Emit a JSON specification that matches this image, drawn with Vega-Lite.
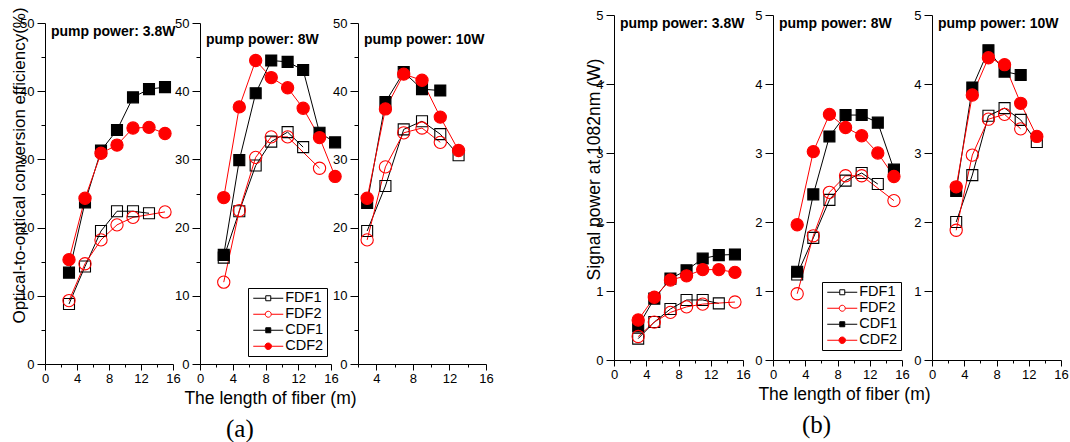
{
"$schema": "https://vega.github.io/schema/vega-lite/v6.json",
"padding": {"left": 10, "top": 6, "right": 0, "bottom": 0},
"config": {
  "font": "Liberation Sans",
  "view": {"stroke": null},
  "axis": {"domainColor": "black", "domainWidth": 1, "tickColor": "black", "tickWidth": 1, "labelColor": "black", "labelFont": "Liberation Sans", "labelFontSize": 13, "titleFont": "Liberation Sans", "titleFontSize": 17.5, "titleFontWeight": "normal", "titleColor": "black", "grid": false, "labelFlush": false, "labelOverlap": false},
  "legend": {"padding": 3, "strokeColor": "black", "fillColor": "white", "labelFont": "Liberation Sans", "labelFontSize": 14.5, "labelColor": "black", "symbolOffset": 10, "labelOffset": 9.7, "rowPadding": 1, "symbolStrokeWidth": 1, "symbolSize": 100}
},
"datasets": {"d": [
{"p":"a1","s":"FDF1","x":3,"y":8.8},{"p":"a1","s":"FDF1","x":5,"y":14.3},{"p":"a1","s":"FDF1","x":7,"y":19.5},{"p":"a1","s":"FDF1","x":9,"y":22.4},{"p":"a1","s":"FDF1","x":11,"y":22.4},{"p":"a1","s":"FDF1","x":13,"y":22.1},
{"p":"a1","s":"FDF2","x":3,"y":9.3},{"p":"a1","s":"FDF2","x":5,"y":14.7},{"p":"a1","s":"FDF2","x":7,"y":18.2},{"p":"a1","s":"FDF2","x":9,"y":20.4},{"p":"a1","s":"FDF2","x":11,"y":21.5},{"p":"a1","s":"FDF2","x":15,"y":22.3},
{"p":"a1","s":"CDF1","x":3,"y":13.4},{"p":"a1","s":"CDF1","x":5,"y":23.7},{"p":"a1","s":"CDF1","x":7,"y":31.3},{"p":"a1","s":"CDF1","x":9,"y":34.3},{"p":"a1","s":"CDF1","x":11,"y":39.1},{"p":"a1","s":"CDF1","x":13,"y":40.3},{"p":"a1","s":"CDF1","x":15,"y":40.6},
{"p":"a1","s":"CDF2","x":3,"y":15.3},{"p":"a1","s":"CDF2","x":5,"y":24.3},{"p":"a1","s":"CDF2","x":7,"y":30.9},{"p":"a1","s":"CDF2","x":9,"y":32.1},{"p":"a1","s":"CDF2","x":11,"y":34.6},{"p":"a1","s":"CDF2","x":13,"y":34.7},{"p":"a1","s":"CDF2","x":15,"y":33.8},
{"p":"a2","s":"FDF1","x":2.9,"y":15.6},{"p":"a2","s":"FDF1","x":4.8,"y":22.4},{"p":"a2","s":"FDF1","x":6.8,"y":29.1},{"p":"a2","s":"FDF1","x":8.7,"y":32.6},{"p":"a2","s":"FDF1","x":10.7,"y":34.0},{"p":"a2","s":"FDF1","x":12.6,"y":31.8},
{"p":"a2","s":"FDF2","x":2.9,"y":12.0},{"p":"a2","s":"FDF2","x":4.8,"y":22.5},{"p":"a2","s":"FDF2","x":6.8,"y":30.3},{"p":"a2","s":"FDF2","x":8.7,"y":33.3},{"p":"a2","s":"FDF2","x":10.7,"y":33.3},{"p":"a2","s":"FDF2","x":14.6,"y":28.7},
{"p":"a2","s":"CDF1","x":2.9,"y":16.0},{"p":"a2","s":"CDF1","x":4.8,"y":29.9},{"p":"a2","s":"CDF1","x":6.8,"y":39.7},{"p":"a2","s":"CDF1","x":8.7,"y":44.5},{"p":"a2","s":"CDF1","x":10.7,"y":44.3},{"p":"a2","s":"CDF1","x":12.6,"y":43.1},{"p":"a2","s":"CDF1","x":14.6,"y":33.9},{"p":"a2","s":"CDF1","x":16.5,"y":32.5},
{"p":"a2","s":"CDF2","x":2.9,"y":24.4},{"p":"a2","s":"CDF2","x":4.8,"y":37.7},{"p":"a2","s":"CDF2","x":6.8,"y":44.5},{"p":"a2","s":"CDF2","x":8.7,"y":42.0},{"p":"a2","s":"CDF2","x":10.7,"y":40.5},{"p":"a2","s":"CDF2","x":12.6,"y":37.5},{"p":"a2","s":"CDF2","x":14.6,"y":33.2},{"p":"a2","s":"CDF2","x":16.5,"y":27.5},
{"p":"a3","s":"FDF1","x":3,"y":19.5},{"p":"a3","s":"FDF1","x":5,"y":26.1},{"p":"a3","s":"FDF1","x":7,"y":34.4},{"p":"a3","s":"FDF1","x":9,"y":35.6},{"p":"a3","s":"FDF1","x":11,"y":33.7},{"p":"a3","s":"FDF1","x":13,"y":30.6},
{"p":"a3","s":"FDF2","x":3,"y":18.2},{"p":"a3","s":"FDF2","x":5,"y":28.9},{"p":"a3","s":"FDF2","x":7,"y":33.9},{"p":"a3","s":"FDF2","x":9,"y":34.6},{"p":"a3","s":"FDF2","x":11,"y":32.5},
{"p":"a3","s":"CDF1","x":3,"y":23.6},{"p":"a3","s":"CDF1","x":5,"y":38.4},{"p":"a3","s":"CDF1","x":7,"y":42.8},{"p":"a3","s":"CDF1","x":9,"y":40.3},{"p":"a3","s":"CDF1","x":11,"y":40.1},
{"p":"a3","s":"CDF2","x":3,"y":24.3},{"p":"a3","s":"CDF2","x":5,"y":37.4},{"p":"a3","s":"CDF2","x":7,"y":42.5},{"p":"a3","s":"CDF2","x":9,"y":41.6},{"p":"a3","s":"CDF2","x":11,"y":36.2},{"p":"a3","s":"CDF2","x":13,"y":31.3},
{"p":"b1","s":"FDF1","x":3,"y":0.31},{"p":"b1","s":"FDF1","x":5,"y":0.55},{"p":"b1","s":"FDF1","x":7,"y":0.74},{"p":"b1","s":"FDF1","x":9,"y":0.87},{"p":"b1","s":"FDF1","x":11,"y":0.87},{"p":"b1","s":"FDF1","x":13,"y":0.82},
{"p":"b1","s":"FDF2","x":3,"y":0.34},{"p":"b1","s":"FDF2","x":5,"y":0.55},{"p":"b1","s":"FDF2","x":7,"y":0.69},{"p":"b1","s":"FDF2","x":9,"y":0.77},{"p":"b1","s":"FDF2","x":11,"y":0.81},{"p":"b1","s":"FDF2","x":15,"y":0.84},
{"p":"b1","s":"CDF1","x":3,"y":0.49},{"p":"b1","s":"CDF1","x":5,"y":0.89},{"p":"b1","s":"CDF1","x":7,"y":1.18},{"p":"b1","s":"CDF1","x":9,"y":1.30},{"p":"b1","s":"CDF1","x":11,"y":1.47},{"p":"b1","s":"CDF1","x":13,"y":1.52},{"p":"b1","s":"CDF1","x":15,"y":1.53},
{"p":"b1","s":"CDF2","x":3,"y":0.58},{"p":"b1","s":"CDF2","x":5,"y":0.91},{"p":"b1","s":"CDF2","x":7,"y":1.16},{"p":"b1","s":"CDF2","x":9,"y":1.22},{"p":"b1","s":"CDF2","x":11,"y":1.31},{"p":"b1","s":"CDF2","x":13,"y":1.31},{"p":"b1","s":"CDF2","x":15,"y":1.27},
{"p":"b2","s":"FDF1","x":3,"y":1.24},{"p":"b2","s":"FDF1","x":5,"y":1.77},{"p":"b2","s":"FDF1","x":7,"y":2.32},{"p":"b2","s":"FDF1","x":9,"y":2.60},{"p":"b2","s":"FDF1","x":11,"y":2.71},{"p":"b2","s":"FDF1","x":13,"y":2.55},
{"p":"b2","s":"FDF2","x":3,"y":0.96},{"p":"b2","s":"FDF2","x":5,"y":1.80},{"p":"b2","s":"FDF2","x":7,"y":2.43},{"p":"b2","s":"FDF2","x":9,"y":2.67},{"p":"b2","s":"FDF2","x":11,"y":2.67},{"p":"b2","s":"FDF2","x":15,"y":2.31},
{"p":"b2","s":"CDF1","x":3,"y":1.28},{"p":"b2","s":"CDF1","x":5,"y":2.40},{"p":"b2","s":"CDF1","x":7,"y":3.24},{"p":"b2","s":"CDF1","x":9,"y":3.55},{"p":"b2","s":"CDF1","x":11,"y":3.55},{"p":"b2","s":"CDF1","x":13,"y":3.44},{"p":"b2","s":"CDF1","x":15,"y":2.76},
{"p":"b2","s":"CDF2","x":3,"y":1.96},{"p":"b2","s":"CDF2","x":5,"y":3.02},{"p":"b2","s":"CDF2","x":7,"y":3.56},{"p":"b2","s":"CDF2","x":9,"y":3.37},{"p":"b2","s":"CDF2","x":11,"y":3.25},{"p":"b2","s":"CDF2","x":13,"y":3.00},{"p":"b2","s":"CDF2","x":15,"y":2.66},
{"p":"b3","s":"FDF1","x":3,"y":2.00},{"p":"b3","s":"FDF1","x":5,"y":2.68},{"p":"b3","s":"FDF1","x":7,"y":3.54},{"p":"b3","s":"FDF1","x":9,"y":3.65},{"p":"b3","s":"FDF1","x":11,"y":3.48},{"p":"b3","s":"FDF1","x":13,"y":3.16},
{"p":"b3","s":"FDF2","x":3,"y":1.88},{"p":"b3","s":"FDF2","x":5,"y":2.97},{"p":"b3","s":"FDF2","x":7,"y":3.49},{"p":"b3","s":"FDF2","x":9,"y":3.56},{"p":"b3","s":"FDF2","x":11,"y":3.35},
{"p":"b3","s":"CDF1","x":3,"y":2.45},{"p":"b3","s":"CDF1","x":5,"y":3.95},{"p":"b3","s":"CDF1","x":7,"y":4.49},{"p":"b3","s":"CDF1","x":9,"y":4.18},{"p":"b3","s":"CDF1","x":11,"y":4.13},
{"p":"b3","s":"CDF2","x":3,"y":2.51},{"p":"b3","s":"CDF2","x":5,"y":3.84},{"p":"b3","s":"CDF2","x":7,"y":4.38},{"p":"b3","s":"CDF2","x":9,"y":4.28},{"p":"b3","s":"CDF2","x":11,"y":3.72},{"p":"b3","s":"CDF2","x":13,"y":3.24}
]},
"spacing": 91,
"bounds": "full",
"resolve": {"scale": {"fill": "independent", "stroke": "independent", "shape": "independent"}},
"hconcat": [
{
"spacing": 27, "bounds": "flush",
"resolve": {"scale": {"fill": "independent", "stroke": "independent", "shape": "independent"}},
"title": {"text": "(a)", "orient": "bottom", "font": "Liberation Serif", "fontSize": 25, "fontWeight": "normal", "color": "black", "anchor": "middle", "dx": -12, "offset": 10},
"hconcat": [
{
 "width": 128, "height": 349,
 "title": {"text": "pump power: 3.8W", "frame": "group", "anchor": "start", "orient": "top", "baseline": "top", "offset": -11, "dx": 6, "dy": 21, "fontSize": 14, "fontWeight": "bold", "color": "black", "font": "Liberation Sans"},
 "data": {"name": "d"},
 "transform": [{"filter": "datum.p === 'a1'"}],
 "encoding": {
  "x": {"field": "x", "type": "quantitative", "scale": {"domain": [0, 16], "nice": false}, "axis": {"values": [0,2,4,6,8,10,12,14,16], "format": "d", "labelExpr": "datum.value % 4 === 0 ? datum.label : ''", "tickSize": {"condition": {"test": "datum.value % 4 === 0", "value": 6}, "value": 3}, "labelPadding": 2, "title": null}},
  "y": {"field": "y", "type": "quantitative", "scale": {"domain": [0, 50], "range": [349, 8], "nice": false}, "axis": {"values": [0,5,10,15,20,25,30,35,40,45,50], "format": "d", "labelExpr": "datum.value % 10 === 0 ? datum.label : ''", "tickSize": {"condition": {"test": "datum.value % 10 === 0", "value": 8}, "value": 4}, "labelPadding": 3, "title": "Optical-to-optical conversion efficiency(%)", "titleFontSize": 17, "titleX": -25.5, "titleY": 150, "titleAngle": -90, "titleAlign": "center", "titleBaseline": "middle"}}
 },
 "layer": [
  {"mark": {"type": "line", "strokeWidth": 1}, "encoding": {"stroke": {"field": "s", "scale": {"domain": ["FDF1","FDF2","CDF1","CDF2"], "range": ["black","red","black","red"]}, "legend": null}}},
  {"transform": [{"filter": "datum.s === 'FDF1' || datum.s === 'CDF1'"}], "mark": {"type": "point", "shape": "square", "size": 121, "strokeWidth": 1.1, "opacity": 1}, "encoding": {"fill": {"field": "s", "scale": {"domain": ["FDF1","FDF2","CDF1","CDF2"], "range": ["transparent","transparent","black","red"]}, "legend": null}, "stroke": {"field": "s", "scale": {"domain": ["FDF1","FDF2","CDF1","CDF2"], "range": ["black","red","black","red"]}, "legend": null}}},
  {"transform": [{"filter": "datum.s === 'FDF2' || datum.s === 'CDF2'"}], "mark": {"type": "point", "shape": "circle", "size": 150, "strokeWidth": 1.1, "opacity": 1}, "encoding": {"fill": {"field": "s", "scale": {"domain": ["FDF1","FDF2","CDF1","CDF2"], "range": ["transparent","transparent","black","red"]}, "legend": null}, "stroke": {"field": "s", "scale": {"domain": ["FDF1","FDF2","CDF1","CDF2"], "range": ["black","red","black","red"]}, "legend": null}}}
 ]
},
{
 "width": 131, "height": 349,
 "title": {"text": "pump power: 8W", "frame": "group", "anchor": "start", "orient": "top", "baseline": "top", "offset": -11, "dx": 6, "dy": 21, "fontSize": 14, "fontWeight": "bold", "color": "black", "font": "Liberation Sans"},
 "data": {"name": "d"},
 "transform": [{"filter": "datum.p === 'a2'"}],
 "encoding": {
  "x": {"field": "x", "type": "quantitative", "scale": {"domain": [0, 16], "nice": false}, "axis": {"values": [0,2,4,6,8,10,12,14,16], "format": "d", "labelExpr": "datum.value % 4 === 0 ? datum.label : ''", "tickSize": {"condition": {"test": "datum.value % 4 === 0", "value": 6}, "value": 3}, "labelPadding": 2, "title": "The length of fiber (m)", "titleX": 70, "titlePadding": 4}},
  "y": {"field": "y", "type": "quantitative", "scale": {"domain": [0, 50], "range": [349, 8], "nice": false}, "axis": {"values": [0,5,10,15,20,25,30,35,40,45,50], "format": "d", "labelExpr": "datum.value % 10 === 0 ? datum.label : ''", "tickSize": {"condition": {"test": "datum.value % 10 === 0", "value": 8}, "value": 4}, "labelPadding": 3, "title": null}}
 },
 "layer": [
  {"mark": {"type": "line", "strokeWidth": 1}, "encoding": {"stroke": {"field": "s", "scale": {"domain": ["FDF1","FDF2","CDF1","CDF2"], "range": ["black","red","black","red"]}}}},
  {"transform": [{"filter": "datum.s === 'FDF1' || datum.s === 'CDF1'"}], "mark": {"type": "point", "shape": "square", "size": 121, "strokeWidth": 1.1, "opacity": 1}, "encoding": {"fill": {"field": "s", "scale": {"domain": ["FDF1","FDF2","CDF1","CDF2"], "range": ["transparent","transparent","black","red"]}}, "stroke": {"field": "s", "scale": {"domain": ["FDF1","FDF2","CDF1","CDF2"], "range": ["black","red","black","red"]}}}},
  {"transform": [{"filter": "datum.s === 'FDF2' || datum.s === 'CDF2'"}], "mark": {"type": "point", "shape": "circle", "size": 150, "strokeWidth": 1.1, "opacity": 1}, "encoding": {"fill": {"field": "s", "scale": {"domain": ["FDF1","FDF2","CDF1","CDF2"], "range": ["transparent","transparent","black","red"]}}, "stroke": {"field": "s", "scale": {"domain": ["FDF1","FDF2","CDF1","CDF2"], "range": ["black","red","black","red"]}}}},
  {"transform": [{"filter": "false"}], "mark": {"type": "point", "size": 100, "strokeWidth": 1, "opacity": 1},
   "encoding": {
    "shape": {"field": "s", "scale": {"domain": ["FDF1","FDF2","CDF1","CDF2"], "range": ["M-3,0H-0.5M0.5,0H3M-0.5,-0.5H0.5V0.5H-0.5Z", "M-3,0H-0.6M0.6,0H3M0.6,0A0.6,0.6,0,1,1,-0.6,0A0.6,0.6,0,1,1,0.6,0Z", "M-3,0H-0.5M0.5,0H3M-0.5,-0.5H0.5V0.5H-0.5Z", "M-3,0H-0.65M0.65,0H3M0.65,0A0.65,0.65,0,1,1,-0.65,0A0.65,0.65,0,1,1,0.65,0Z"]}, "legend": {"title": null, "orient": "none", "legendX": 48, "legendY": 273}},
    "fill": {"field": "s", "scale": {"domain": ["FDF1","FDF2","CDF1","CDF2"], "range": ["transparent","transparent","black","red"]}, "legend": {"title": null, "orient": "none", "legendX": 48, "legendY": 273}},
    "stroke": {"field": "s", "scale": {"domain": ["FDF1","FDF2","CDF1","CDF2"], "range": ["black","red","black","red"]}, "legend": {"title": null, "orient": "none", "legendX": 48, "legendY": 273}}
   }}
 ]
},
{
 "width": 128, "height": 349,
 "title": {"text": "pump power: 10W", "frame": "group", "anchor": "start", "orient": "top", "baseline": "top", "offset": -11, "dx": 6, "dy": 21, "fontSize": 14, "fontWeight": "bold", "color": "black", "font": "Liberation Sans"},
 "data": {"name": "d"},
 "transform": [{"filter": "datum.p === 'a3'"}],
 "encoding": {
  "x": {"field": "x", "type": "quantitative", "scale": {"domain": [2, 16], "nice": false, "zero": false}, "axis": {"values": [2,4,6,8,10,12,14,16], "format": "d", "labelExpr": "datum.value % 4 === 0 ? datum.label : ''", "tickSize": {"condition": {"test": "datum.value % 4 === 0", "value": 6}, "value": 3}, "labelPadding": 2, "title": null}},
  "y": {"field": "y", "type": "quantitative", "scale": {"domain": [0, 50], "range": [349, 8], "nice": false}, "axis": {"values": [0,5,10,15,20,25,30,35,40,45,50], "format": "d", "labelExpr": "datum.value % 10 === 0 ? datum.label : ''", "tickSize": {"condition": {"test": "datum.value % 10 === 0", "value": 8}, "value": 4}, "labelPadding": 3, "title": null}}
 },
 "layer": [
  {"mark": {"type": "line", "strokeWidth": 1}, "encoding": {"stroke": {"field": "s", "scale": {"domain": ["FDF1","FDF2","CDF1","CDF2"], "range": ["black","red","black","red"]}, "legend": null}}},
  {"transform": [{"filter": "datum.s === 'FDF1' || datum.s === 'CDF1'"}], "mark": {"type": "point", "shape": "square", "size": 121, "strokeWidth": 1.1, "opacity": 1}, "encoding": {"fill": {"field": "s", "scale": {"domain": ["FDF1","FDF2","CDF1","CDF2"], "range": ["transparent","transparent","black","red"]}, "legend": null}, "stroke": {"field": "s", "scale": {"domain": ["FDF1","FDF2","CDF1","CDF2"], "range": ["black","red","black","red"]}, "legend": null}}},
  {"transform": [{"filter": "datum.s === 'FDF2' || datum.s === 'CDF2'"}], "mark": {"type": "point", "shape": "circle", "size": 150, "strokeWidth": 1.1, "opacity": 1}, "encoding": {"fill": {"field": "s", "scale": {"domain": ["FDF1","FDF2","CDF1","CDF2"], "range": ["transparent","transparent","black","red"]}, "legend": null}, "stroke": {"field": "s", "scale": {"domain": ["FDF1","FDF2","CDF1","CDF2"], "range": ["black","red","black","red"]}, "legend": null}}}
 ]
}
]
},
{
"spacing": 30, "bounds": "flush",
"resolve": {"scale": {"fill": "independent", "stroke": "independent", "shape": "independent"}},
"title": {"text": "(b)", "orient": "bottom", "font": "Liberation Serif", "fontSize": 25, "fontWeight": "normal", "color": "black", "anchor": "middle", "dx": -10, "offset": 10},
"hconcat": [
{
 "width": 129, "height": 345,
 "title": {"text": "pump power: 3.8W", "frame": "group", "anchor": "start", "orient": "top", "baseline": "top", "offset": -4, "dx": 6, "dy": 18, "fontSize": 14, "fontWeight": "bold", "color": "black", "font": "Liberation Sans"},
 "data": {"name": "d"},
 "transform": [{"filter": "datum.p === 'b1'"}],
 "encoding": {
  "x": {"field": "x", "type": "quantitative", "scale": {"domain": [0, 16], "nice": false}, "axis": {"values": [0,2,4,6,8,10,12,14,16], "format": "d", "labelExpr": "datum.value % 4 === 0 ? datum.label : ''", "tickSize": {"condition": {"test": "datum.value % 4 === 0", "value": 6}, "value": 3}, "labelPadding": 2, "title": null}},
  "y": {"field": "y", "type": "quantitative", "scale": {"domain": [0, 5], "nice": false}, "axis": {"values": [0,0.5,1,1.5,2,2.5,3,3.5,4,4.5,5], "format": "d", "labelExpr": "datum.value % 1 === 0 ? datum.label : ''", "tickSize": {"condition": {"test": "datum.value % 1 === 0", "value": 8}, "value": 4}, "labelPadding": 3, "title": "Signal power at 1082nm (W)", "titleFontSize": 17.5, "titleX": -20, "titleY": 154, "titleAngle": -90, "titleAlign": "center", "titleBaseline": "middle"}}
 },
 "layer": [
  {"mark": {"type": "line", "strokeWidth": 1}, "encoding": {"stroke": {"field": "s", "scale": {"domain": ["FDF1","FDF2","CDF1","CDF2"], "range": ["black","red","black","red"]}, "legend": null}}},
  {"transform": [{"filter": "datum.s === 'FDF1' || datum.s === 'CDF1'"}], "mark": {"type": "point", "shape": "square", "size": 121, "strokeWidth": 1.1, "opacity": 1}, "encoding": {"fill": {"field": "s", "scale": {"domain": ["FDF1","FDF2","CDF1","CDF2"], "range": ["transparent","transparent","black","red"]}, "legend": null}, "stroke": {"field": "s", "scale": {"domain": ["FDF1","FDF2","CDF1","CDF2"], "range": ["black","red","black","red"]}, "legend": null}}},
  {"transform": [{"filter": "datum.s === 'FDF2' || datum.s === 'CDF2'"}], "mark": {"type": "point", "shape": "circle", "size": 150, "strokeWidth": 1.1, "opacity": 1}, "encoding": {"fill": {"field": "s", "scale": {"domain": ["FDF1","FDF2","CDF1","CDF2"], "range": ["transparent","transparent","black","red"]}, "legend": null}, "stroke": {"field": "s", "scale": {"domain": ["FDF1","FDF2","CDF1","CDF2"], "range": ["black","red","black","red"]}, "legend": null}}}
 ]
},
{
 "width": 129, "height": 345,
 "title": {"text": "pump power: 8W", "frame": "group", "anchor": "start", "orient": "top", "baseline": "top", "offset": -4, "dx": 6, "dy": 18, "fontSize": 14, "fontWeight": "bold", "color": "black", "font": "Liberation Sans"},
 "data": {"name": "d"},
 "transform": [{"filter": "datum.p === 'b2'"}],
 "encoding": {
  "x": {"field": "x", "type": "quantitative", "scale": {"domain": [0, 16], "nice": false}, "axis": {"values": [0,2,4,6,8,10,12,14,16], "format": "d", "labelExpr": "datum.value % 4 === 0 ? datum.label : ''", "tickSize": {"condition": {"test": "datum.value % 4 === 0", "value": 6}, "value": 3}, "labelPadding": 2, "title": "The length of fiber (m)", "titleX": 71, "titlePadding": 4}},
  "y": {"field": "y", "type": "quantitative", "scale": {"domain": [0, 5], "nice": false}, "axis": {"values": [0,0.5,1,1.5,2,2.5,3,3.5,4,4.5,5], "format": "d", "labelExpr": "datum.value % 1 === 0 ? datum.label : ''", "tickSize": {"condition": {"test": "datum.value % 1 === 0", "value": 8}, "value": 4}, "labelPadding": 3, "title": null}}
 },
 "layer": [
  {"mark": {"type": "line", "strokeWidth": 1}, "encoding": {"stroke": {"field": "s", "scale": {"domain": ["FDF1","FDF2","CDF1","CDF2"], "range": ["black","red","black","red"]}}}},
  {"transform": [{"filter": "datum.s === 'FDF1' || datum.s === 'CDF1'"}], "mark": {"type": "point", "shape": "square", "size": 121, "strokeWidth": 1.1, "opacity": 1}, "encoding": {"fill": {"field": "s", "scale": {"domain": ["FDF1","FDF2","CDF1","CDF2"], "range": ["transparent","transparent","black","red"]}}, "stroke": {"field": "s", "scale": {"domain": ["FDF1","FDF2","CDF1","CDF2"], "range": ["black","red","black","red"]}}}},
  {"transform": [{"filter": "datum.s === 'FDF2' || datum.s === 'CDF2'"}], "mark": {"type": "point", "shape": "circle", "size": 150, "strokeWidth": 1.1, "opacity": 1}, "encoding": {"fill": {"field": "s", "scale": {"domain": ["FDF1","FDF2","CDF1","CDF2"], "range": ["transparent","transparent","black","red"]}}, "stroke": {"field": "s", "scale": {"domain": ["FDF1","FDF2","CDF1","CDF2"], "range": ["black","red","black","red"]}}}},
  {"transform": [{"filter": "false"}], "mark": {"type": "point", "size": 100, "strokeWidth": 1, "opacity": 1},
   "encoding": {
    "shape": {"field": "s", "scale": {"domain": ["FDF1","FDF2","CDF1","CDF2"], "range": ["M-3,0H-0.5M0.5,0H3M-0.5,-0.5H0.5V0.5H-0.5Z", "M-3,0H-0.6M0.6,0H3M0.6,0A0.6,0.6,0,1,1,-0.6,0A0.6,0.6,0,1,1,0.6,0Z", "M-3,0H-0.5M0.5,0H3M-0.5,-0.5H0.5V0.5H-0.5Z", "M-3,0H-0.65M0.65,0H3M0.65,0A0.65,0.65,0,1,1,-0.65,0A0.65,0.65,0,1,1,0.65,0Z"]}, "legend": {"title": null, "orient": "none", "legendX": 49, "legendY": 267}},
    "fill": {"field": "s", "scale": {"domain": ["FDF1","FDF2","CDF1","CDF2"], "range": ["transparent","transparent","black","red"]}, "legend": {"title": null, "orient": "none", "legendX": 49, "legendY": 267}},
    "stroke": {"field": "s", "scale": {"domain": ["FDF1","FDF2","CDF1","CDF2"], "range": ["black","red","black","red"]}, "legend": {"title": null, "orient": "none", "legendX": 49, "legendY": 267}}
   }}
 ]
},
{
 "width": 129, "height": 345,
 "title": {"text": "pump power: 10W", "frame": "group", "anchor": "start", "orient": "top", "baseline": "top", "offset": -4, "dx": 6, "dy": 18, "fontSize": 14, "fontWeight": "bold", "color": "black", "font": "Liberation Sans"},
 "data": {"name": "d"},
 "transform": [{"filter": "datum.p === 'b3'"}],
 "encoding": {
  "x": {"field": "x", "type": "quantitative", "scale": {"domain": [0, 16], "nice": false}, "axis": {"values": [0,2,4,6,8,10,12,14,16], "format": "d", "labelExpr": "datum.value % 4 === 0 ? datum.label : ''", "tickSize": {"condition": {"test": "datum.value % 4 === 0", "value": 6}, "value": 3}, "labelPadding": 2, "title": null}},
  "y": {"field": "y", "type": "quantitative", "scale": {"domain": [0, 5], "nice": false}, "axis": {"values": [0,0.5,1,1.5,2,2.5,3,3.5,4,4.5,5], "format": "d", "labelExpr": "datum.value % 1 === 0 ? datum.label : ''", "tickSize": {"condition": {"test": "datum.value % 1 === 0", "value": 8}, "value": 4}, "labelPadding": 3, "title": null}}
 },
 "layer": [
  {"mark": {"type": "line", "strokeWidth": 1}, "encoding": {"stroke": {"field": "s", "scale": {"domain": ["FDF1","FDF2","CDF1","CDF2"], "range": ["black","red","black","red"]}, "legend": null}}},
  {"transform": [{"filter": "datum.s === 'FDF1' || datum.s === 'CDF1'"}], "mark": {"type": "point", "shape": "square", "size": 121, "strokeWidth": 1.1, "opacity": 1}, "encoding": {"fill": {"field": "s", "scale": {"domain": ["FDF1","FDF2","CDF1","CDF2"], "range": ["transparent","transparent","black","red"]}, "legend": null}, "stroke": {"field": "s", "scale": {"domain": ["FDF1","FDF2","CDF1","CDF2"], "range": ["black","red","black","red"]}, "legend": null}}},
  {"transform": [{"filter": "datum.s === 'FDF2' || datum.s === 'CDF2'"}], "mark": {"type": "point", "shape": "circle", "size": 150, "strokeWidth": 1.1, "opacity": 1}, "encoding": {"fill": {"field": "s", "scale": {"domain": ["FDF1","FDF2","CDF1","CDF2"], "range": ["transparent","transparent","black","red"]}, "legend": null}, "stroke": {"field": "s", "scale": {"domain": ["FDF1","FDF2","CDF1","CDF2"], "range": ["black","red","black","red"]}, "legend": null}}}
 ]
}
]
}
]
}
